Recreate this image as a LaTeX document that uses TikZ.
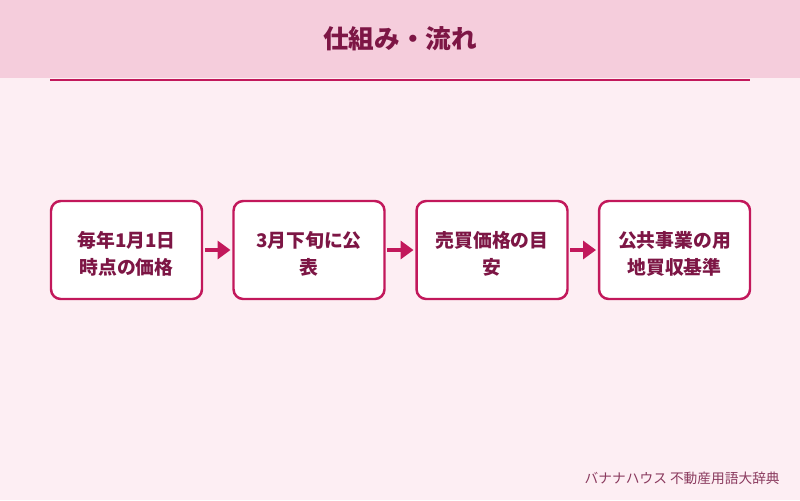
\documentclass[tikz,border=0pt]{standalone}
\usepackage{fontspec}
\setmainfont{Noto Sans CJK JP}
\usepackage{tikz}
\usetikzlibrary{arrows.meta,calc,positioning}
\usepackage{xcolor}
\definecolor{BnBack}{HTML}{FDEEF3}
\definecolor{BnBand}{HTML}{F5CDDC}
\definecolor{BnRose}{HTML}{C2185B}
\definecolor{BnText}{HTML}{7D1645}
\definecolor{BnMuted}{HTML}{8A3A5E}

\begin{document}
\begin{tikzpicture}[
  x=0.02cm,y=-0.02cm,
  flow/.style={-{Triangle[length=2.6mm,width=3.6mm]},draw=BnRose,line width=2.2pt},
  stepbox/.style={draw=BnRose,fill=white,rounded corners=5.5pt,line width=1.4pt,
    minimum width=3.02cm,minimum height=1.96cm,align=center,text=BnText,
    text height=27.5pt,text depth=0pt,
    font=\bfseries\fontsize{10.7}{15.4}\selectfont},
  title/.style={font=\bfseries\fontsize{14.6}{16}\selectfont,text=BnText},
  meta/.style={font=\fontsize{7.8}{9}\selectfont,text=BnMuted,inner sep=0pt}
]

% page, header band and rule
\fill[BnBack] (0,0) rectangle (800,500);
\fill[BnBand] (0,0) rectangle (800,78);
\useasboundingbox (0,0) rectangle (800,500);
\node[title] (head) at (400,39) {仕組み・流れ};
\coordinate (ruleL) at (50,80);
\coordinate (ruleR) at (750,80);
\draw[BnRose,line width=1.1pt] (ruleL) -- (ruleR);

\node[stepbox] (s1) at (126.5,250) {毎年1月1日\\時点の価格};
\node[stepbox] (s2) at (309,250) {3月下旬に公\\表};
\node[stepbox] (s3) at (492,250) {売買価格の目\\安};
\node[stepbox] (s4) at (674.5,250) {公共事業の用\\地買収基準};

\draw[flow] ([xshift=1pt]s1.east) -- ([xshift=-1pt]s2.west);
\draw[flow] ([xshift=1pt]s2.east) -- ([xshift=-1pt]s3.west);
\draw[flow] ([xshift=1pt]s3.east) -- ([xshift=-1pt]s4.west);

\node[meta,anchor=east] (credit) at (780,478) {バナナハウス 不動産用語大辞典};

\end{tikzpicture}
\end{document}
